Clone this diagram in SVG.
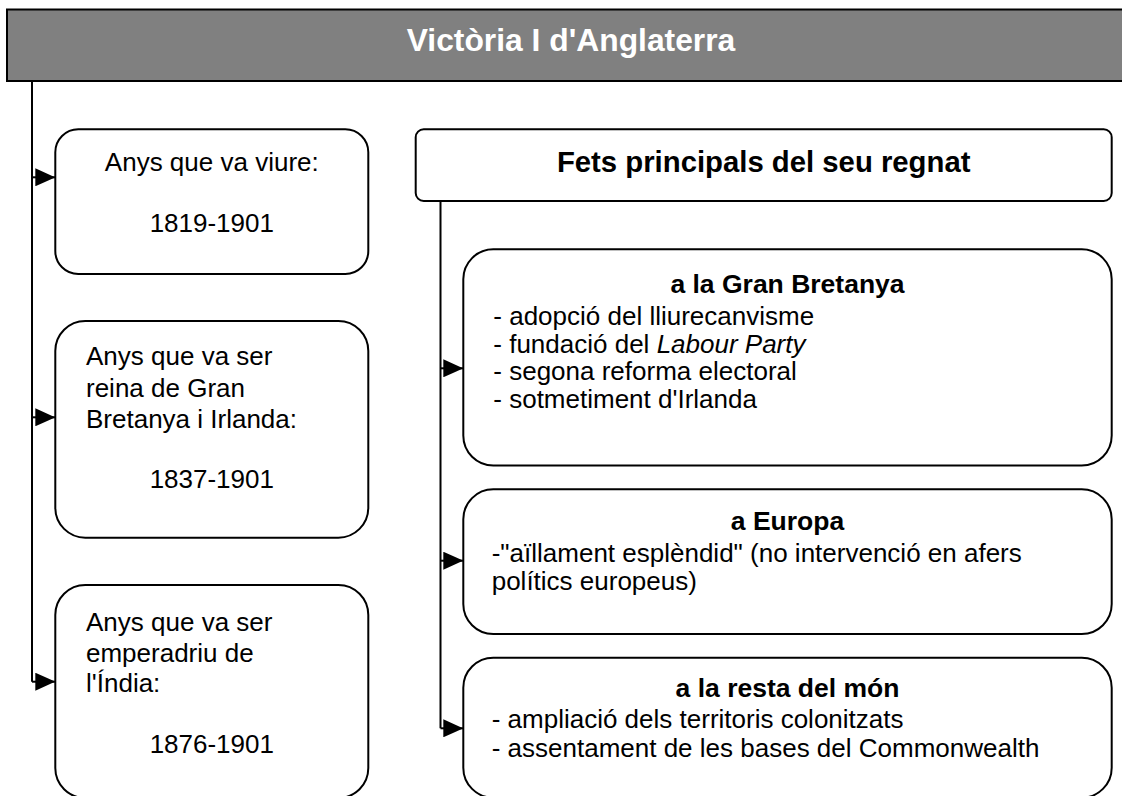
<svg xmlns="http://www.w3.org/2000/svg" width="1122" height="796" viewBox="0 0 1122 796">
<style>
.box{fill:#fff;stroke:#000;stroke-width:2}
.t{font-family:"Liberation Sans",Arial,sans-serif;font-size:26px;fill:#000}
.b{font-weight:bold}
.c{text-anchor:middle}
.con{fill:none;stroke:#000;stroke-width:2}
</style>
<defs>
<marker id="arr" viewBox="0 0 20 18" refX="20" refY="9" markerWidth="20" markerHeight="18" markerUnits="userSpaceOnUse" orient="auto">
<path d="M0,0 L20,9 L0,18 z" fill="#000"/>
</marker>
</defs>
<rect width="1122" height="796" fill="#fff"/>
<g id="title">
<rect x="7" y="9.5" width="1130" height="71.5" fill="#808080" stroke="#000" stroke-width="2"/>
<text class="t b c" x="571" y="51" style="font-size:31.8px;fill:#fff">Victòria I d'Anglaterra</text>
</g>
<g id="connectors">
<path class="con" d="M32,81 V681.7"/>
<path class="con" d="M32,177.3 H55.3" marker-end="url(#arr)"/>
<path class="con" d="M32,417.3 H55.3" marker-end="url(#arr)"/>
<path class="con" d="M32,681.7 H55.3" marker-end="url(#arr)"/>
<path class="con" d="M440.5,201 V728.3"/>
<path class="con" d="M440.5,368.3 H463.3" marker-end="url(#arr)"/>
<path class="con" d="M440.5,560.7 H463.3" marker-end="url(#arr)"/>
<path class="con" d="M440.5,728.3 H463.3" marker-end="url(#arr)"/>
</g>
<g id="viure">
<rect class="box" x="55.3" y="129.3" width="313" height="144.7" rx="23"/>
<text class="t c" x="211.8" y="170.7">Anys que va viure:</text>
<text class="t c" x="211.8" y="231.7">1819-1901</text>
</g>
<g id="reina">
<rect class="box" x="55.3" y="321" width="313" height="216.7" rx="30"/>
<text class="t" x="86" y="365">Anys que va ser</text>
<text class="t" x="86" y="396.7">reina de Gran</text>
<text class="t" x="86" y="427.7">Bretanya i Irlanda:</text>
<text class="t c" x="211.8" y="488.3">1837-1901</text>
</g>
<g id="emperadriu">
<rect class="box" x="55.3" y="585" width="313" height="213" rx="30"/>
<text class="t" x="86" y="631">Anys que va ser</text>
<text class="t" x="86" y="661.7">emperadriu de</text>
<text class="t" x="86" y="691.7">l'Índia:</text>
<text class="t c" x="211.8" y="753.3">1876-1901</text>
</g>
<g id="fets">
<rect class="box" x="415.7" y="129.3" width="696" height="71.7" rx="8"/>
<text class="t b c" x="763.7" y="171.7" style="font-size:29.3px">Fets principals del seu regnat</text>
</g>
<g id="gran-bretanya">
<rect class="box" x="463.3" y="249.3" width="648.4" height="216.2" rx="30"/>
<text class="t b c" x="787.5" y="293.3" style="font-size:26.5px">a la Gran Bretanya</text>
<text class="t" x="493.3" y="325">- adopció del lliurecanvisme</text>
<text class="t" x="493.3" y="352.7">- fundació del <tspan font-style="italic">Labour Party</tspan></text>
<text class="t" x="493.3" y="380.3">- segona reforma electoral</text>
<text class="t" x="493.3" y="408.3">- sotmetiment d'Irlanda</text>
</g>
<g id="europa">
<rect class="box" x="463.3" y="489.3" width="648.4" height="144.7" rx="30"/>
<text class="t b c" x="787.5" y="530" style="font-size:26.5px">a Europa</text>
<text class="t" x="491.7" y="561.7">-"aïllament esplèndid" (no intervenció en afers</text>
<text class="t" x="491.7" y="590">polítics europeus)</text>
</g>
<g id="resta">
<rect class="box" x="463.3" y="657.7" width="648.4" height="140" rx="30"/>
<text class="t b c" x="787.5" y="696.7" style="font-size:26.5px">a la resta del món</text>
<text class="t" x="491.7" y="728.3">- ampliació dels territoris colonitzats</text>
<text class="t" x="491.7" y="756.7">- assentament de les bases del Commonwealth</text>
</g>
</svg>
